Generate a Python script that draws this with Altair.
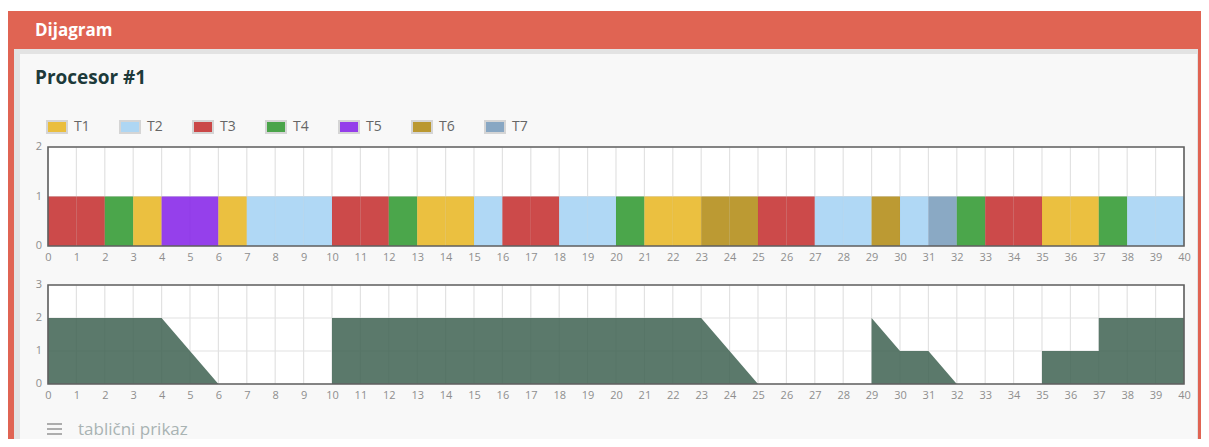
import altair as alt
import pandas as pd

# ---------------- data ----------------
header_title = "Dijagram"
panel_title = "Procesor #1"
footer_text = "tablični prikaz"

tasks = ["T1", "T2", "T3", "T4", "T5", "T6", "T7"]
task_colors = ["#e8b51e", "#a2d1f3", "#c32a2a", "#2c962c", "#831ee8", "#b0880f", "#759aba"]

slot_start = [0, 1, 2, 3, 4, 5, 6, 7, 8, 9, 10, 11, 12, 13, 14, 15, 16, 17, 18, 19,
              20, 21, 22, 23, 24, 25, 26, 27, 28, 29, 30, 31, 32, 33, 34, 35, 36, 37, 38, 39]
slot_task = ["T3", "T3", "T4", "T1", "T5", "T5", "T1", "T2", "T2", "T2",
             "T3", "T3", "T4", "T1", "T1", "T2", "T3", "T3", "T2", "T2",
             "T4", "T1", "T1", "T6", "T6", "T3", "T3", "T2", "T2", "T6",
             "T2", "T7", "T4", "T3", "T3", "T1", "T1", "T4", "T2", "T2"]
slot_len = 1

queue_t = [0, 4, 6, 10, 10, 23, 25, 29, 29, 30, 31, 32, 35, 35, 37, 37, 40]
queue_n = [2, 2, 0, 0, 2, 2, 0, 0, 2, 1, 1, 0, 0, 1, 1, 2, 2]

x_ticks = [0, 1, 2, 3, 4, 5, 6, 7, 8, 9, 10, 11, 12, 13, 14, 15, 16, 17, 18, 19, 20,
           21, 22, 23, 24, 25, 26, 27, 28, 29, 30, 31, 32, 33, 34, 35, 36, 37, 38, 39, 40]
top_y_ticks = [0, 1, 2]
bot_y_ticks = [0, 1, 2, 3]

# ---------------- layout (pixels, chart coordinates) ----------------
W, H = 1193, 431
PX0, PX1 = 40, 1176
TOP_Y0, TOP_Y1 = 238, 139
BOT_Y0, BOT_Y1 = 376, 277

RED = "#e06453"
FONT = "Open Sans"
TICK_COLOR = "#8e8e8e"
GRID_COLOR = "#e2e2e2"
BORDER_COLOR = "#606060"

bars_df = pd.DataFrame({
    "s": slot_start,
    "e": [s + slot_len for s in slot_start],
    "task": slot_task,
})
queue_df = pd.DataFrame({"t": queue_t, "n": queue_n})
xgrid_df = pd.DataFrame({"s": x_ticks})
one = alt.Data(values=[{}])


def scales(y_ticks, y0, y1):
    xs = alt.Scale(domain=[x_ticks[0], x_ticks[-1]], range=[PX0, PX1], nice=False, zero=False)
    ys = alt.Scale(domain=[0, y_ticks[-1]], range=[y0, y1], nice=False)
    return xs, ys


def x_axis(y0):
    return alt.Axis(values=x_ticks, orient="bottom", offset=y0 - H, title=None, grid=False,
                    domain=False, ticks=False, labelFont=FONT, labelFontSize=11,
                    labelColor=TICK_COLOR, labelPadding=5, labelFlush=False,
                    labelOverlap=False, labelBound=False, zindex=2, format="d")


def panel_layers(y_ticks, y0, y1, data_mark):
    """Background, grid (x grid carries the x axis), data mark, border, y tick labels."""
    xs, ys = scales(y_ticks, y0, y1)
    ymax = y_ticks[-1]
    ydf = pd.DataFrame({"v": y_ticks})
    bg = alt.Chart(one).mark_rect(fill="white").encode(
        x=alt.X(datum=x_ticks[0], scale=xs, axis=None),
        x2=alt.X2(datum=x_ticks[-1]),
        y=alt.Y(datum=0, scale=ys, axis=None),
        y2=alt.Y2(datum=ymax),
    )
    vgrid = alt.Chart(xgrid_df).mark_rule(color=GRID_COLOR, strokeWidth=1.2).encode(
        x=alt.X("s:Q", scale=xs, axis=x_axis(y0)),
        y=alt.Y(datum=0, scale=ys, axis=None),
        y2=alt.Y2(datum=ymax),
    )
    hgrid = alt.Chart(ydf).mark_rule(color=GRID_COLOR, strokeWidth=1.2).encode(
        x=alt.X(datum=x_ticks[0], scale=xs, axis=None),
        x2=alt.X2(datum=x_ticks[-1]),
        y=alt.Y("v:Q", scale=ys, axis=None),
    )
    border = alt.Chart(one).mark_rect(fill=None, stroke=BORDER_COLOR, strokeWidth=1.6).encode(
        x=alt.X(datum=x_ticks[0], scale=xs, axis=None),
        x2=alt.X2(datum=x_ticks[-1]),
        y=alt.Y(datum=0, scale=ys, axis=None),
        y2=alt.Y2(datum=ymax),
    )
    ylabels = alt.Chart(ydf).mark_text(
        align="right", baseline="middle", font=FONT, fontSize=11, color=TICK_COLOR,
    ).encode(
        x=alt.value(PX0 - 6),
        y=alt.Y("v:Q", scale=ys, axis=None),
        text=alt.Text("v:Q", format="d"),
    )
    return [bg, vgrid, hgrid, data_mark(xs, ys), border, ylabels]


def bars_mark(xs, ys):
    return alt.Chart(bars_df).mark_rect(opacity=0.85).encode(
        x=alt.X("s:Q", scale=xs, axis=None),
        x2="e:Q",
        y=alt.Y(datum=0, scale=ys, axis=None),
        y2=alt.Y2(datum=1),
        color=alt.Color(
            "task:N",
            scale=alt.Scale(domain=tasks, range=task_colors),
            legend=alt.Legend(
                orient="none", legendX=38, legendY=108, direction="horizontal",
                title=None, symbolType="M-1,-0.6H1V0.6H-1Z", symbolSize=400,
                symbolStrokeColor="#cfcfcf", symbolStrokeWidth=2, symbolOpacity=0.85,
                labelFont=FONT, labelFontSize=14, labelColor="#666666", labelOffset=6,
                columnPadding=26, gridAlign="all", padding=0,
            ),
        ),
    )


def area_mark(xs, ys):
    return alt.Chart(queue_df).mark_area(fill="#3e6251", fillOpacity=0.85).encode(
        x=alt.X("t:Q", scale=xs, axis=None),
        y=alt.Y("n:Q", scale=ys, axis=None, stack=None),
    )


top_layers = panel_layers(top_y_ticks, TOP_Y0, TOP_Y1, bars_mark)
bottom_layers = panel_layers(bot_y_ticks, BOT_Y0, BOT_Y1, area_mark)

# ---------------- decoration ----------------
frame = alt.Chart(one).mark_rect(fill=RED).encode(
    x=alt.value(0), x2=alt.value(W), y=alt.value(3), y2=alt.value(H))
panel_border = alt.Chart(one).mark_rect(fill="#e3e3e3").encode(
    x=alt.value(6), x2=alt.value(W - 3), y=alt.value(41), y2=alt.value(H))
panel_fill = alt.Chart(one).mark_rect(fill="#f8f8f8").encode(
    x=alt.value(12), x2=alt.value(W - 4), y=alt.value(46), y2=alt.value(H))
header_text = alt.Chart(one).mark_text(
    text=header_title, font=FONT, fontSize=17, fontWeight="bold", color="white",
    align="left", baseline="middle").encode(x=alt.value(27), y=alt.value(23))
title_text = alt.Chart(one).mark_text(
    text=panel_title, font=FONT, fontSize=19, fontWeight="bold", color="#1d3a3a",
    align="left", baseline="middle").encode(x=alt.value(27), y=alt.value(70))
menu_icon = alt.Chart(pd.DataFrame({"yy": [416, 421, 426]})).mark_rule(
    color="#9a9a9a", strokeWidth=1.6).encode(
    x=alt.value(39), x2=alt.value(54), y=alt.Y("yy:Q", scale=None, axis=None))
footer = alt.Chart(one).mark_text(
    text=footer_text, font=FONT, fontSize=17, color="#a9b3b3",
    align="left", baseline="middle").encode(x=alt.value(70), y=alt.value(422))

chart = alt.layer(
    frame, panel_border, panel_fill, header_text, title_text,
    *top_layers, *bottom_layers,
    menu_icon, footer,
).resolve_scale(
    x="independent", y="independent"
).resolve_axis(
    x="independent", y="independent"
).properties(
    width=W, height=H, autosize=alt.AutoSizeParams(type="none"), padding=0,
    background="white",
).configure_view(stroke=None)

chart.save("out.html", embed_options={"renderer": "svg", "actions": False})
